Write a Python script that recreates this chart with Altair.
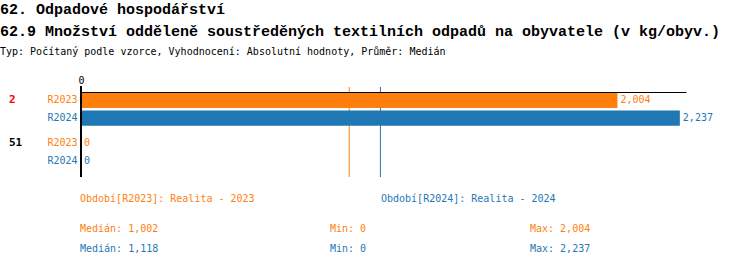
import altair as alt
import pandas as pd
from decimal import Decimal, ROUND_HALF_EVEN

# ---- data ----
title_main = "62. Odpadové hospodářství"
title_sub = "62.9 Množství odděleně soustředěných textilních odpadů na obyvatele (v kg/obyv.)"
info_line = "Typ: Počítaný podle vzorce, Vyhodnocení: Absolutní hodnoty, Průměr: Medián"
groups = ["2", "51"]
series = ["R2023", "R2024"]
series_names = ["Realita - 2023", "Realita - 2024"]
values_R2023 = [2.004, 0]
values_R2024 = [2.237, 0]
axis_max = 2.26

# ---- styles ----
series_colors = ["#ff7f0e", "#1f77b4"]
group_colors = ["#ff0000", "#000000"]
MONO = "DejaVu Sans Mono"
TITLE_FONT = "Liberation Mono"


def fmt(v):
    d = Decimal(repr(float(v))).quantize(Decimal("0.001"), rounding=ROUND_HALF_EVEN).normalize()
    s = format(d, "f")
    return s.replace(".", ",")


series_values = {"R2023": values_R2023, "R2024": values_R2024}
rows = []
for s in series:
    for g, v in zip(groups, series_values[s]):
        rows.append({"group": g, "series": s, "value": v, "label": fmt(v)})
df = pd.DataFrame(rows)

stats = df.groupby("series")["value"].agg(["median", "min", "max"]).reindex(series).reset_index()
stats["name"] = series_names

xscale = alt.Scale(domain=[0, axis_max], range=[81, 686])
xaxis = alt.Axis(orient="top", offset=-92, values=[0], ticks=False, grid=False,
                 domainColor="black", domainWidth=1, labelFont=MONO, labelFontSize=10,
                 labelColor="black", labelPadding=7, labelFlush=False, title=None, zindex=1)
yscale = alt.Scale(domain=groups, range=[88, 173], paddingInner=0, paddingOuter=0)
yoff = alt.Scale(domain=series, paddingInner=0.15, paddingOuter=0.272)
cscale = alt.Scale(domain=series, range=series_colors)

base = alt.Chart(df)

median_rules = alt.Chart(stats).mark_rule(strokeWidth=1).encode(
    x=alt.X("median:Q", scale=xscale, axis=xaxis),
    y=alt.value(87),
    y2=alt.value(177),
    color=alt.Color("series:N", scale=cscale, legend=None),
)

bars = base.mark_bar().encode(
    x=alt.X("value:Q", scale=xscale, axis=xaxis),
    y=alt.Y("group:N", scale=yscale, axis=None),
    yOffset=alt.YOffset("series:N", scale=yoff),
    color=alt.Color("series:N", scale=cscale, legend=None),
)

zero_line = alt.Chart(pd.DataFrame({"z": [0]})).mark_rule(color="black", strokeWidth=2).encode(
    x=alt.X("z:Q", scale=xscale, axis=xaxis),
    y=alt.value(86),
    y2=alt.value(177),
)

value_labels = base.mark_text(align="left", baseline="middle", dx=3, font=MONO, fontSize=10).encode(
    x=alt.X("value:Q", scale=xscale, axis=xaxis),
    y=alt.Y("group:N", scale=yscale, axis=None),
    yOffset=alt.YOffset("series:N", scale=yoff),
    text="label:N",
    color=alt.Color("series:N", scale=cscale, legend=None),
)

series_labels = base.mark_text(align="right", baseline="middle", font=MONO, fontSize=10).encode(
    x=alt.value(77.5),
    y=alt.Y("group:N", scale=yscale, axis=None),
    yOffset=alt.YOffset("series:N", scale=yoff),
    text="series:N",
    color=alt.Color("series:N", scale=cscale, legend=None),
)

gdf = pd.DataFrame({"group": groups, "series": [series[0]] * len(groups)})
group_labels = alt.Chart(gdf).mark_text(align="left", baseline="middle", font=MONO, fontSize=11,
                                        fontWeight="bold").encode(
    x=alt.value(9),
    y=alt.Y("group:N", scale=yscale, axis=None),
    yOffset=alt.YOffset("series:N", scale=yoff),
    text="group:N",
    color=alt.Color("group:N", scale=alt.Scale(domain=groups, range=group_colors), legend=None),
)

titles = []
for txt, ypos, size, weight, font in [
    (title_main, 13.5, 15, "bold", TITLE_FONT),
    (title_sub, 35.5, 15, "bold", TITLE_FONT),
    (info_line, 54.5, 10, "normal", MONO),
]:
    titles.append(
        alt.Chart(pd.DataFrame({"t": [txt]})).mark_text(
            align="left", baseline="alphabetic", font=font, fontSize=size, fontWeight=weight,
            color="black").encode(x=alt.value(0), y=alt.value(ypos), text="t:N")
    )

legend_x = [80, 381]
stat_x = [80, 330, 530]
info_layers = []
for i, s in enumerate(series):
    row = stats[stats["series"] == s].copy()
    row["legend"] = "Období[" + s + "]: " + row["name"]
    row["med_t"] = "Medián: " + row["median"].map(fmt)
    row["min_t"] = "Min: " + row["min"].map(fmt)
    row["max_t"] = "Max: " + row["max"].map(fmt)
    c = series_colors[i]
    ch = alt.Chart(row)
    info_layers.append(ch.mark_text(align="left", baseline="alphabetic", font=MONO, fontSize=10, color=c)
                       .encode(x=alt.value(legend_x[i]), y=alt.value(202), text="legend:N"))
    for fld, xx in zip(["med_t", "min_t", "max_t"], stat_x):
        info_layers.append(ch.mark_text(align="left", baseline="alphabetic", font=MONO, fontSize=10, color=c)
                           .encode(x=alt.value(xx), y=alt.value(232 + 20 * i), text=f"{fld}:N"))

chart = alt.layer(
    median_rules, bars, zero_line, value_labels, series_labels, group_labels, *titles, *info_layers
).properties(
    width=750, height=266, padding=0, autosize="none", background="white"
).resolve_scale(color="independent").configure_view(stroke=None)

chart.save("out.html", embed_options={"renderer": "svg", "actions": False})
